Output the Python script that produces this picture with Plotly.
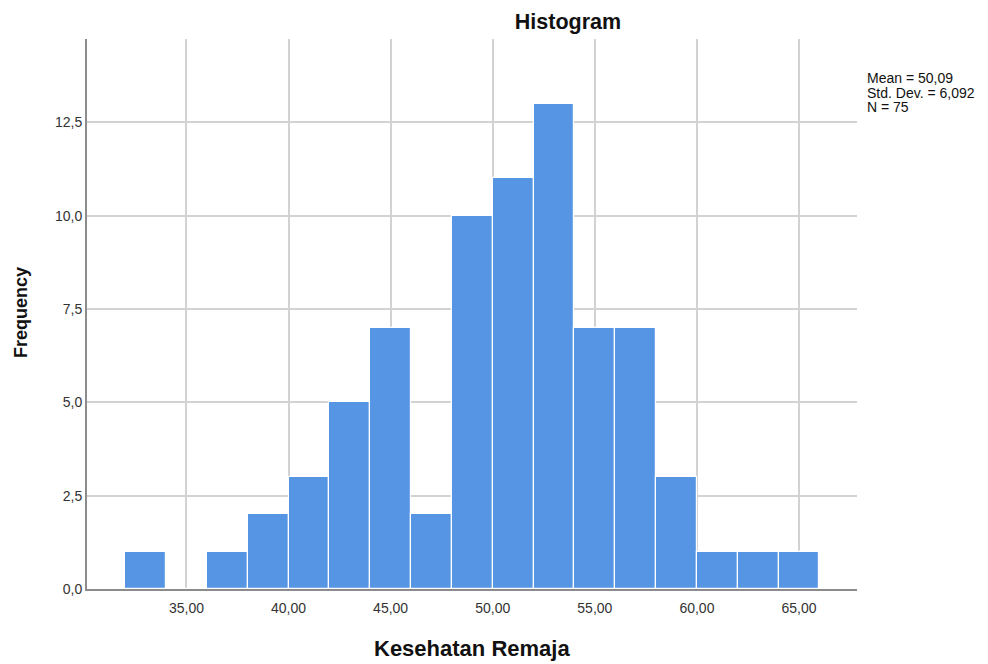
import plotly.graph_objects as go

bin_starts = [32, 34, 36, 38, 40, 42, 44, 46, 48, 50, 52, 54, 56, 58, 60, 62, 64]
counts = [1, 0, 1, 2, 3, 5, 7, 2, 10, 11, 13, 7, 7, 3, 1, 1, 1]
bin_width = 2
x_ticks = [35, 40, 45, 50, 55, 60, 65]
x_ticklabels = ["35,00", "40,00", "45,00", "50,00", "55,00", "60,00", "65,00"]
y_ticks = [0, 2.5, 5, 7.5, 10, 12.5]
y_ticklabels = ["0,0", "2,5", "5,0", "7,5", "10,0", "12,5"]
stats_lines = ["Mean = 50,09", "Std. Dev. = 6,092", "N = 75"]

centers = [s + bin_width / 2 for s in bin_starts]

fig = go.Figure()
fig.add_trace(go.Bar(
    x=centers, y=counts, width=[bin_width] * len(counts),
    marker=dict(color="#5595E4", line=dict(color="white", width=1.2)),
    hoverinfo="skip",
))

FONT = "Liberation Sans, Arial, sans-serif"
W, H = 988, 664
L, T = 87, 39
PW, PH = 770.5, 550
PLOT_LEFT, PLOT_BOTTOM = 87, 589  # page coords


def px(xp):
    return (xp - PLOT_LEFT) / PW


def py(yp):
    return (PLOT_BOTTOM - yp) / PH


annotations = [
    dict(text="<b>Kesehatan Remaja</b>", xref="paper", yref="paper",
         x=px(472), y=py(648), xanchor="center", yanchor="middle",
         showarrow=False, font=dict(size=22, color="#111")),
    dict(text="<b>Frequency</b>", xref="paper", yref="paper",
         x=px(21), y=py(313), xanchor="center", yanchor="middle", textangle=-90,
         showarrow=False, font=dict(size=18, color="#111")),
]
for i, line in enumerate(stats_lines):
    annotations.append(dict(text=line, xref="paper", yref="paper",
                            x=px(866), y=py(78 + i * 14.7), xanchor="left", yanchor="middle",
                            align="left", showarrow=False, font=dict(size=14, color="#111")))

fig.update_layout(
    width=W, height=H,
    margin=dict(l=L, r=W - L - PW, t=T, b=H - T - PH),
    paper_bgcolor="white", plot_bgcolor="white",
    showlegend=False, bargap=0,
    font=dict(family=FONT, color="#222", size=12),
    title=dict(text="<b>Histogram</b>", x=568 / W, xanchor="center",
               y=1 - 21 / H, yanchor="middle", font=dict(size=21.5, color="#111")),
    xaxis=dict(range=[30.13, 67.84], tickmode="array", tickvals=x_ticks, ticktext=x_ticklabels,
               showgrid=True, gridcolor="#d2d2d2", gridwidth=1.5,
               showline=True, linecolor="#8c8c8c", linewidth=2, ticks="", zeroline=False,
               ticklabelstandoff=5,
               tickfont=dict(size=14, color="#333")),
    yaxis=dict(range=[0, 14.73], tickmode="array", tickvals=y_ticks, ticktext=y_ticklabels,
               showgrid=True, gridcolor="#d2d2d2", gridwidth=1.5,
               showline=True, linecolor="#8c8c8c", linewidth=2, ticks="", zeroline=False,
               tickfont=dict(size=14, color="#333")),
    annotations=annotations,
)

fig.write_html("out.html", config={"displayModeBar": False},
               post_script="document.body.style.margin='0';document.body.style.overflow='hidden';")
